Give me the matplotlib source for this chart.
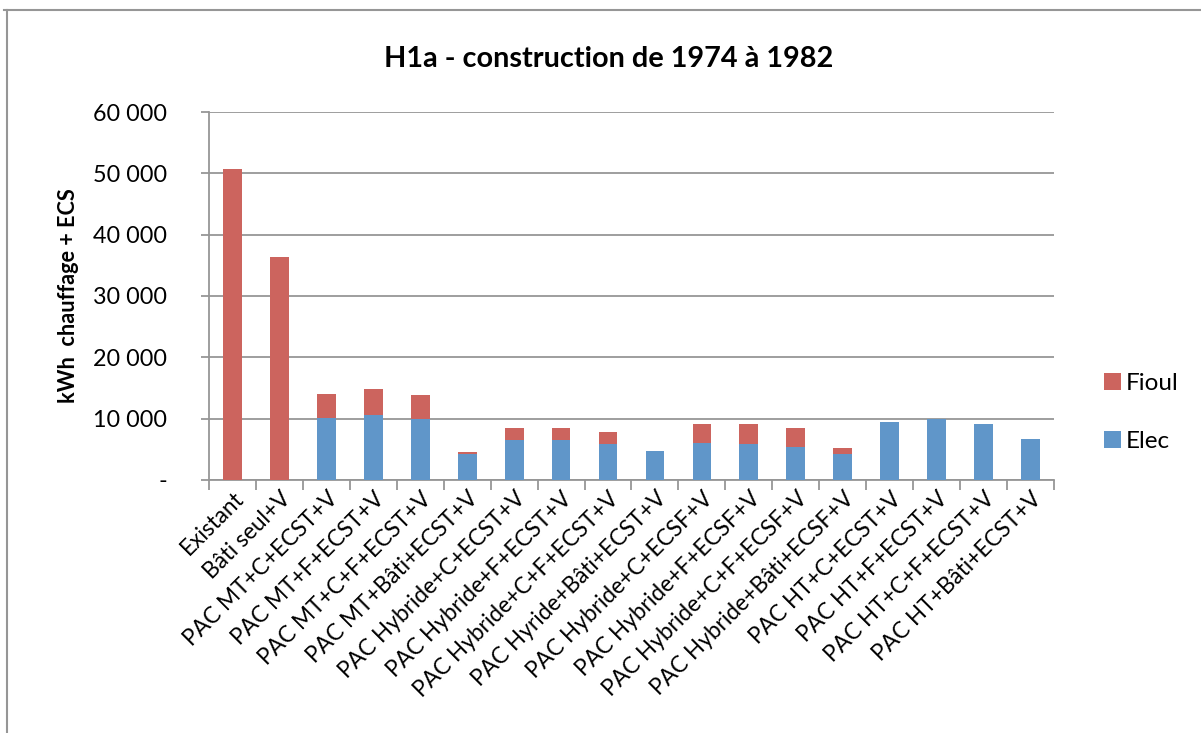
import matplotlib
matplotlib.use("Agg")
import matplotlib.pyplot as plt
from matplotlib.lines import Line2D
from matplotlib.ticker import FixedLocator, FuncFormatter
from matplotlib.transforms import ScaledTranslation

categories = [
    "Existant", "Bâti seul+V", "PAC MT+C+ECST+V", "PAC MT+F+ECST+V",
    "PAC MT+C+F+ECST+V", "PAC MT+Bâti+ECST+V", "PAC Hybride+C+ECST+V",
    "PAC Hybride+F+ECST+V", "PAC Hybride+C+F+ECST+V", "PAC Hyride+Bâti+ECST+V",
    "PAC Hybride+C+ECSF+V", "PAC Hybride+F+ECSF+V", "PAC Hybride+C+F+ECSF+V",
    "PAC Hybride+Bâti+ECSF+V", "PAC HT+C+ECST+V", "PAC HT+F+ECST+V",
    "PAC HT+C+F+ECST+V", "PAC HT+Bâti+ECST+V",
]
elec = [0, 0, 10100, 10660, 10000, 4260, 6450, 6450, 5900, 4650,
        6020, 5910, 5410, 4250, 9500, 9970, 9170, 6680]
fioul = [50660, 36280, 3940, 4150, 3930, 280, 2070, 2070, 1860, 0,
         3150, 3260, 2990, 940, 0, 0, 0, 0]
y_ticks = [0, 10000, 20000, 30000, 40000, 50000, 60000]

title = "H1a - construction de 1974 à 1982"
y_label = "kWh  chauffage + ECS"

RED = "#cc645e"
BLUE = "#6096c9"
GRID = "#969696"
FONT = "Lato"

plt.rcParams["font.family"] = [FONT, "DejaVu Sans"]

fig = plt.figure(figsize=(12.01, 7.33), dpi=100)
ax = fig.add_axes([0.174, 0.3452, 0.7036, 0.502])

x = list(range(len(categories)))
ax.bar(x, elec, width=0.4, color=BLUE, label="Elec", zorder=3)
ax.bar(x, fioul, width=0.4, bottom=elec, color=RED, label="Fioul", zorder=3)

ax.set_xlim(-0.5, len(categories) - 0.5)
ax.set_ylim(0, 60000)
ax.yaxis.set_major_locator(FixedLocator(y_ticks))
ax.yaxis.set_major_formatter(FuncFormatter(
    lambda v, p: "-" if v == 0 else f"{int(v):,}".replace(",", " ")))
ax.grid(axis="y", color=GRID, lw=1.3, zorder=0)

for s in ["top", "right"]:
    ax.spines[s].set_visible(False)
for s in ["left", "bottom"]:
    ax.spines[s].set_color(GRID)
    ax.spines[s].set_linewidth(1.3)

ax.tick_params(axis="y", direction="out", length=6, width=1.3, color=GRID,
               labelsize=16.8, pad=24, labelcolor="black")
# category ticks between bars, labels centred under bars
ax.set_xticks([i - 0.5 for i in range(len(categories) + 1)])
ax.set_xticklabels([])
ax.set_xticks(x, minor=True)
ax.set_xticklabels(categories, minor=True, rotation=45, ha="right",
                   va="center", rotation_mode="anchor", fontsize=16.3)
ax.tick_params(axis="x", which="major", direction="out", length=7,
               width=1.3, color=GRID)
ax.tick_params(axis="x", which="minor", length=0, pad=11)
shift = ScaledTranslation(0.08, 0.0, fig.dpi_scale_trans)
for lbl in ax.get_xticklabels(minor=True):
    lbl.set_transform(lbl.get_transform() + shift)

ax.set_ylabel(y_label, fontsize=15.6, fontweight="bold", labelpad=10)
fig.text(0.507, 0.919, title, ha="center", va="center", fontsize=20.8,
         fontweight="bold")

handles, labels = ax.get_legend_handles_labels()
ax.legend(handles[::-1], labels[::-1], loc="center left",
          bbox_to_anchor=(1.033, 0.183), frameon=False, fontsize=17.5,
          handlelength=0.7, handleheight=0.7, handletextpad=0.2,
          labelspacing=1.5)

# chart frame: top and left edges
fig.add_artist(Line2D([0.003, 1.0], [0.986, 0.986], color=GRID, lw=1.5,
                      transform=fig.transFigure))
fig.add_artist(Line2D([0.006, 0.006], [0.0, 0.986], color=GRID, lw=1.5,
                      transform=fig.transFigure))

fig.savefig("out.png", dpi=100, facecolor="white")
